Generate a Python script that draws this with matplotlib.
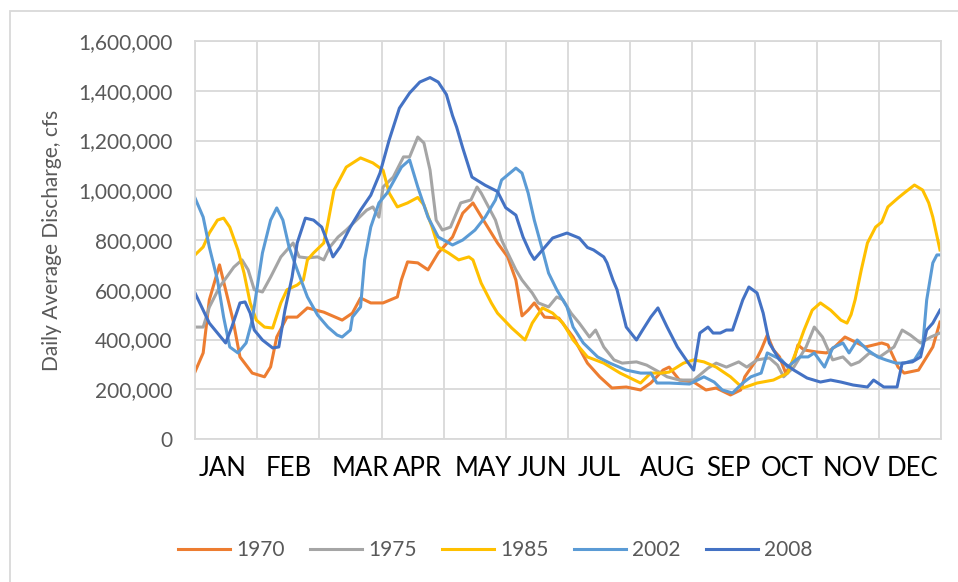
import matplotlib
matplotlib.use('Agg')
import matplotlib.pyplot as plt
from matplotlib.patches import Rectangle
from matplotlib.ticker import FuncFormatter

plt.rcParams['font.family'] = ['Lato', 'DejaVu Sans']

# day of year, discharge in thousand cfs
days_1970 = [0, 4, 7, 12, 18.6, 22, 28, 34, 37, 40, 45, 50, 55, 63, 72, 77, 81, 86, 92, 99, 101,
             104, 109, 114, 119, 126, 131, 136, 142, 148, 153, 157, 160, 163, 166, 171, 178, 185,
             192, 198, 204, 211, 218, 223, 229, 232, 237, 244, 250, 255, 262, 267, 269, 274, 277,
             280, 283, 286, 289, 293, 295, 298, 304, 309, 313, 318, 323, 328, 336, 339, 344, 347,
             354, 361, 364.5]
q_1970 = [270, 346, 559, 700, 478, 330, 265, 250, 290, 410, 490, 490, 527, 510, 478, 506, 567, 547,
          547, 571, 640, 712, 708, 680, 748, 812, 908, 949, 868, 788, 732, 639, 495, 518, 547, 490,
          486, 410, 305, 250, 205, 209, 197, 225, 277, 289, 237, 229, 197, 205, 177, 197, 250, 310,
          358, 418, 358, 330, 265, 318, 378, 358, 350, 346, 370, 410, 390, 370, 386, 378, 289, 265,
          277, 370, 470]

days_1975 = [0, 4, 7, 12, 19, 23, 26, 29, 33, 37, 42, 45, 48, 51, 55, 60, 63, 66, 70, 74, 79, 84,
             87, 90, 92, 97, 102, 105, 109, 112, 115, 118, 121, 125, 130, 135, 138, 140, 147, 150,
             153, 157, 160, 165, 168, 173, 177, 180, 184, 188, 193, 196, 200, 205, 209, 216, 221,
             228, 231, 237, 244, 251, 255, 260, 266, 270, 275, 281, 285, 288, 293, 299, 303, 307,
             312, 317, 321, 325, 330, 335, 342, 346, 350, 355, 360, 364.5]
q_1975 = [450, 450, 530, 611, 691, 720, 680, 600, 591, 651, 732, 760, 788, 732, 728, 732, 720, 772,
          812, 840, 880, 920, 933, 892, 1013, 1053, 1134, 1134, 1214, 1190, 1081, 880, 840, 852, 949,
          961, 1013, 989, 880, 800, 748, 680, 639, 587, 547, 531, 571, 560, 506, 466, 410, 438, 370,
          318, 305, 310, 297, 265, 250, 237, 237, 285, 305, 289, 310, 289, 318, 326, 297, 250, 289,
          370, 450, 410, 318, 330, 297, 310, 346, 330, 370, 438, 418, 386, 410, 426]

days_1985 = [0, 4, 7, 11, 14, 17, 21, 24, 27, 30, 34, 38, 42, 45, 50, 53, 55, 58, 63, 65, 68, 74,
             81, 87, 92, 95, 99, 104, 109, 112, 116, 119, 124, 129, 134, 136, 140, 145, 148, 155,
             161.5, 165, 170, 175, 180, 185, 192, 200, 208, 218, 223, 228, 232, 239, 244, 249, 255,
             262, 268, 275, 283, 290, 295, 298, 302, 306, 311, 316, 319, 321, 323, 326, 329, 333,
             336, 339, 344, 347, 352, 356, 359, 361, 364.5]
q_1985 = [740, 772, 828, 880, 888, 852, 760, 667, 547, 478, 450, 446, 547, 600, 619, 639, 720, 748,
          788, 868, 1000, 1093, 1130, 1110, 1081, 989, 933, 949, 971, 941, 852, 772, 748, 720, 732,
          720, 627, 547, 506, 446, 398, 466, 527, 506, 466, 398, 330, 305, 265, 225, 265, 265, 269,
          305, 318, 310, 289, 250, 205, 225, 237, 265, 370, 438, 518, 547, 518, 478, 466, 500, 560,
          680, 788, 852, 872, 933, 969, 989, 1021, 1001, 949, 892, 760]

days_2002 = [0, 4, 7, 11, 14, 17, 21, 25, 28, 30, 33, 37, 40, 43, 46, 50, 55, 60, 65, 69.5, 72, 76,
             77, 81, 83, 86, 90, 94, 101, 105, 109, 114, 119, 126, 131, 137, 142, 147, 150, 157,
             160, 163, 166, 170, 173, 177, 182, 185, 190, 197, 203, 211, 218, 223, 226, 232, 242,
             249, 254, 258, 263, 268, 272, 277, 280, 284, 287, 290, 294, 296, 300, 303, 308, 312,
             317, 320, 324, 329, 334, 338, 343, 347, 352, 356, 358, 361, 363, 364.5]
q_2002 = [969, 892, 772, 639, 490, 370, 346, 386, 478, 587, 748, 880, 929, 880, 772, 680, 571, 498,
          450, 418, 410, 438, 490, 531, 720, 852, 949, 989, 1093, 1122, 1013, 892, 812, 780, 800,
          840, 892, 961, 1041, 1089, 1069, 989, 880, 760, 667, 600, 531, 450, 386, 330, 305, 277,
          265, 265, 225, 225, 221, 250, 229, 197, 185, 225, 250, 265, 346, 330, 318, 289, 318, 330,
          330, 346, 289, 366, 386, 346, 398, 358, 330, 318, 305, 305, 318, 370, 559, 708, 740, 740]

days_2008 = [0, 4, 7, 11, 15, 18, 22, 24.5, 27, 29, 33, 38, 41, 44, 47.5, 50, 54, 58, 62, 65, 67.5,
             71, 76, 81, 86, 90.5, 95, 100, 105, 110, 115, 119, 123, 126, 128, 131, 135.5, 142, 148,
             152, 157, 160.5, 164, 166, 170, 175, 182, 188, 192, 195, 200, 201.6, 204.5, 206.5, 211,
             216, 219, 223, 226.5, 231, 236, 241, 244, 247, 251, 253.5, 257, 260, 263, 268, 271,
             275, 278, 281, 286, 293, 299.5, 306, 311, 316, 322, 329, 332, 337, 343.5, 346, 351,
             355, 358, 361, 364.5]
q_2008 = [587, 518, 466, 426, 386, 450, 547, 551, 506, 438, 398, 366, 370, 518, 651, 788, 888, 880,
          852, 788, 732, 772, 852, 920, 980, 1069, 1202, 1330, 1391, 1435, 1453, 1435, 1385, 1300,
          1254, 1170, 1053, 1020, 995, 930, 900, 812, 748, 722, 760, 808, 828, 808, 770, 760, 732,
          708, 639, 600, 450, 398, 438, 490, 527, 450, 370, 310, 277, 426, 450, 426, 426, 438, 438,
          559, 611, 587, 506, 386, 318, 277, 245, 229, 237, 229, 217, 209, 237, 209, 209, 305, 310,
          330, 438, 466, 518]

series = [
    ('1970', days_1970, q_1970, '#ED7D31'),
    ('1975', days_1975, q_1975, '#A5A5A5'),
    ('1985', days_1985, q_1985, '#FFC000'),
    ('2002', days_2002, q_2002, '#5B9BD5'),
    ('2008', days_2008, q_2008, '#4472C4'),
]

months = ['JAN', 'FEB', 'MAR', 'APR', 'MAY', 'JUN', 'JUL', 'AUG', 'SEP', 'OCT', 'NOV', 'DEC']
month_label_pos = [13.7, 46, 80.7, 109, 141, 170, 198, 231, 261, 290, 321, 351]
y_ticks = [0, 200000, 400000, 600000, 800000, 1000000, 1200000, 1400000, 1600000]

fig = plt.figure(figsize=(9.58, 5.82), dpi=100)
# chart frame
fig.patches.append(Rectangle((10 / 958, -0.1), 1.2, 1 - 11 / 582 + 0.1, transform=fig.transFigure,
                             fill=False, edgecolor='#D9D9D9', linewidth=1.3))
ax = fig.add_axes([195 / 958, 143 / 582, 746 / 958, 398 / 582])

for name, d, q, c in series:
    ax.plot(d, [v * 1000 for v in q], color=c, linewidth=2.2, label=name, solid_joinstyle='round')

ax.set_xlim(0, 365)
ax.set_ylim(0, 1600000)
ax.set_yticks(y_ticks)
ax.yaxis.set_major_formatter(FuncFormatter(lambda v, p: f'{int(v):,}'))
ax.set_xticks(month_label_pos)
ax.set_xticklabels(months)
ax.set_xticks([365 / 12 * i for i in range(13)], minor=True)
ax.tick_params(axis='x', which='both', length=0, pad=12, labelsize=18.5, labelcolor='black')
ax.tick_params(axis='y', length=0, pad=16, labelsize=15, labelcolor='#595959')
ax.grid(axis='y', color='#D9D9D9', linewidth=1.3)
ax.grid(axis='x', which='minor', color='#D9D9D9', linewidth=1.3)
ax.grid(axis='x', which='major', visible=False)
ax.set_axisbelow(True)
for s in ax.spines.values():
    s.set_color('#D9D9D9')
    s.set_linewidth(1.3)

ax.set_ylabel('Daily Average Discharge, cfs', fontsize=15, color='#595959', labelpad=12)

fig.legend(loc='center', bbox_to_anchor=(0.517, 0.055), ncol=5, frameon=False,
           fontsize=15, labelcolor='#595959', handlelength=2.5, handletextpad=0.3,
           columnspacing=1.2)

plt.savefig('out.png', dpi=100)
